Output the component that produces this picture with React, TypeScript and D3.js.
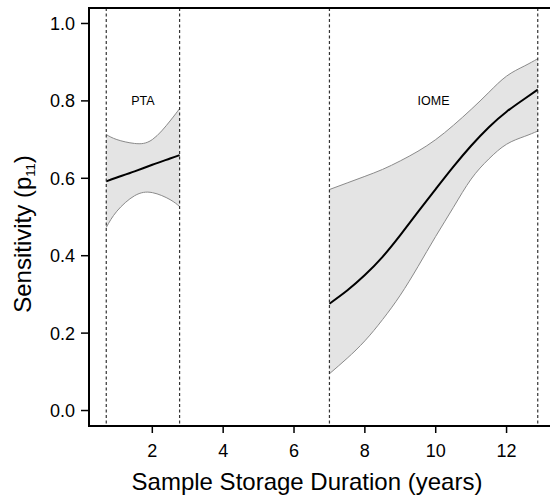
import * as d3 from "d3";
import React, { useEffect, useRef } from "react";

// PTA fit (years, sensitivity)
const ptaX = [0.7, 1.0, 1.5, 2.0, 2.5, 2.77];
const ptaMean = [0.592, 0.602, 0.618, 0.635, 0.651, 0.66];
const ptaUpper = [0.713, 0.7, 0.69, 0.7, 0.748, 0.78];
const ptaLower = [0.473, 0.515, 0.555, 0.563, 0.545, 0.527];

// IOME fit
const iomeX = [7, 7.5, 8, 8.5, 9, 9.5, 10, 10.5, 11, 11.5, 12, 12.5, 12.88];
const iomeMean = [0.276, 0.31, 0.35, 0.397, 0.453, 0.513, 0.572, 0.63, 0.684, 0.732, 0.772, 0.805, 0.829];
const iomeUpper = [0.571, 0.588, 0.605, 0.623, 0.645, 0.67, 0.7, 0.737, 0.778, 0.822, 0.864, 0.89, 0.909];
const iomeLower = [0.095, 0.135, 0.18, 0.235, 0.298, 0.372, 0.45, 0.525, 0.598, 0.65, 0.688, 0.708, 0.722];

const periods = [
  { name: "PTA", start: 0.7, end: 2.77 },
  { name: "IOME", start: 7, end: 12.88 },
];

const xTicks = [2, 4, 6, 8, 10, 12];
const yTicks = [0, 0.2, 0.4, 0.6, 0.8, 1.0];

export default function App() {
  const svgRef = useRef(null);
  const width = 550;
  const height = 496;
  const margin = { top: 8, right: -5, bottom: 70, left: 89 };

  useEffect(() => {
    const svg = d3.select(svgRef.current);
    svg.selectAll("*").remove();
    const font = "'Liberation Sans', Arial, sans-serif";

    const pad = (12.88 - 0.7) * 0.04;
    const x = d3
      .scaleLinear()
      .domain([0.7 - pad, 12.88 + pad])
      .range([margin.left, width - margin.right]);
    const y = d3
      .scaleLinear()
      .domain([-0.04, 1.04])
      .range([height - margin.bottom, margin.top]);

    const bottom = height - margin.bottom;

    const series = [
      { xs: ptaX, mean: ptaMean, lo: ptaLower, hi: ptaUpper },
      { xs: iomeX, mean: iomeMean, lo: iomeLower, hi: iomeUpper },
    ];

    const area = d3
      .area<number[]>()
      .x((d) => x(d[0]))
      .y0((d) => y(d[1]))
      .y1((d) => y(d[2]))
      .curve(d3.curveNatural);
    const line = (key) =>
      d3
        .line<number[]>()
        .x((d) => x(d[0]))
        .y((d) => y(d[key]))
        .curve(d3.curveNatural);

    series.forEach((s) => {
      const rows = s.xs.map((v, i) => [v, s.lo[i], s.hi[i], s.mean[i]]);
      svg.append("path").attr("d", area(rows)).attr("fill", "#e4e4e4");
      svg.append("path").attr("d", line(1)(rows)).attr("fill", "none").attr("stroke", "#8a8a8a").attr("stroke-width", 1);
      svg.append("path").attr("d", line(2)(rows)).attr("fill", "none").attr("stroke", "#8a8a8a").attr("stroke-width", 1);
      svg.append("path").attr("d", line(3)(rows)).attr("fill", "none").attr("stroke", "#000").attr("stroke-width", 2);
    });

    // period boundaries
    periods.forEach((p) => {
      [p.start, p.end].forEach((v) => {
        svg
          .append("line")
          .attr("x1", x(v))
          .attr("x2", x(v))
          .attr("y1", margin.top)
          .attr("y2", bottom)
          .attr("stroke", "#333")
          .attr("stroke-width", 1.2)
          .attr("stroke-dasharray", "3,2.5");
      });
      svg
        .append("text")
        .attr("x", x((p.start + p.end) / 2))
        .attr("y", y(0.8) + 4.5)
        .attr("text-anchor", "middle")
        .attr("font-family", font)
        .attr("font-size", 12.5)
        .text(p.name);
    });

    // frame
    svg
      .append("rect")
      .attr("x", margin.left)
      .attr("y", margin.top)
      .attr("width", width - margin.right - margin.left)
      .attr("height", bottom - margin.top)
      .attr("fill", "none")
      .attr("stroke", "#000")
      .attr("stroke-width", 2);

    // x ticks
    xTicks.forEach((t) => {
      svg.append("line").attr("x1", x(t)).attr("x2", x(t)).attr("y1", bottom).attr("y2", bottom + 7).attr("stroke", "#000").attr("stroke-width", 1.5);
      svg
        .append("text")
        .attr("x", x(t))
        .attr("y", bottom + 30.5)
        .attr("text-anchor", "middle")
        .attr("font-family", font)
        .attr("font-size", 18)
        .text(t);
    });

    // y ticks
    yTicks.forEach((t) => {
      svg.append("line").attr("x1", margin.left - 8).attr("x2", margin.left).attr("y1", y(t)).attr("y2", y(t)).attr("stroke", "#000").attr("stroke-width", 1.5);
      svg
        .append("text")
        .attr("x", 75)
        .attr("y", y(t) + 6.5)
        .attr("text-anchor", "end")
        .attr("font-family", font)
        .attr("font-size", 18)
        .text(d3.format(".1f")(t));
    });

    // axis titles
    svg
      .append("text")
      .attr("x", 307)
      .attr("y", 490)
      .attr("text-anchor", "middle")
      .attr("font-family", font)
      .attr("font-size", 24)
      .text("Sample Storage Duration (years)");

    const yl = svg
      .append("text")
      .attr("transform", "translate(31,234) rotate(-90)")
      .attr("text-anchor", "middle")
      .attr("font-family", font)
      .attr("font-size", 24);
    yl.append("tspan").text("Sensitivity (p");
    yl.append("tspan").attr("font-size", 13).attr("dy", 4).text("11");
    yl.append("tspan").attr("dy", -4).text(")");
  });

  return (
    <div style={{ position: "absolute", left: 0, top: 0 }}>
      <svg width={width} height={height} ref={svgRef}></svg>
    </div>
  );
}
